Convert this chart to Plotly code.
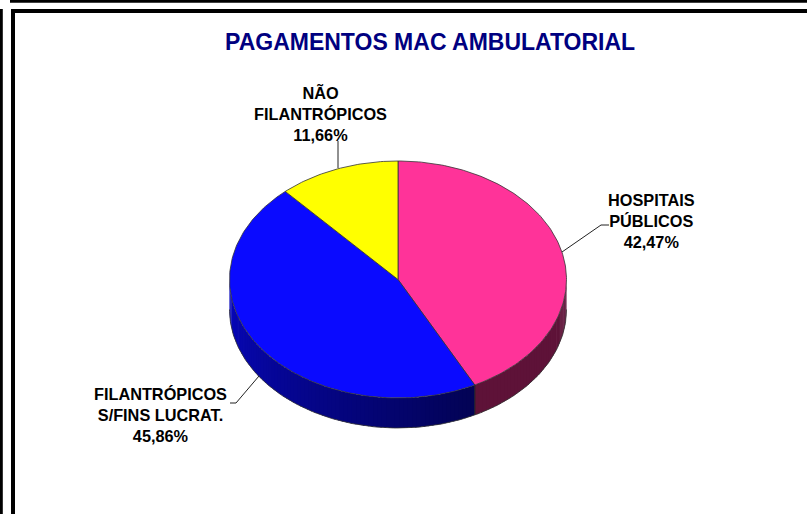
import numpy as np
import plotly.graph_objects as go

# ---------------- data ----------------
title_text = "PAGAMENTOS MAC AMBULATORIAL"
categories = ["HOSPITAIS PÚBLICOS", "FILANTRÓPICOS S/FINS LUCRAT.", "NÃO FILANTRÓPICOS"]
label_lines = [["HOSPITAIS", "PÚBLICOS"], ["FILANTRÓPICOS", "S/FINS LUCRAT."], ["NÃO", "FILANTRÓPICOS"]]
shares = [42.47, 45.86, 11.66]
colors = ["#FF3399", "#0A0AFF", "#FFFF00"]

# ---------------- geometry / style ----------------
W, H = 807, 514
CX, CY = 398.0, 279.5
RX, RY = 168.5, 118.5
DEPTH = 30.0
FONT = "Liberation Sans, Arial, sans-serif"


def pt(theta_deg, dy=0.0):
    t = np.radians(theta_deg)
    return CX + RX * np.sin(t), CY - RY * np.cos(t) + dy


def arc(a, b, dy=0.0, n=None):
    if n is None:
        n = max(int(abs(b - a) / 1.0) + 2, 3)
    th = np.linspace(a, b, n)
    xs, ys = pt(th, dy)
    return list(xs), list(ys)


def hex_rgb(h):
    h = h.lstrip("#")
    return tuple(int(h[i:i + 2], 16) for i in (0, 2, 4))


def shade(col, f):
    r, g, b = hex_rgb(col)
    return "rgb(%d,%d,%d)" % (int(r * f), int(g * f), int(b * f))


def side_factor(theta):
    if theta >= 153:
        return 0.33 + 0.42 * min(max((theta - 153) / 117.0, 0), 1)
    return 0.37


total = sum(shares)
fracs = [s / total for s in shares]
starts = np.concatenate([[0], np.cumsum(fracs)[:-1]]) * 360
ends = np.cumsum(fracs) * 360

fig = go.Figure()

# sides (front half only: 90..270 deg)
for col, a, b in zip(colors, starts, ends):
    lo, hi = max(a, 90), min(b, 270)
    if lo >= hi:
        continue
    nseg = max(int(np.ceil((hi - lo) / 1.5)), 1)
    edges = np.linspace(lo, hi, nseg + 1)
    for s0, s1 in zip(edges[:-1], edges[1:]):
        s1e = min(s1 + 0.6, hi)
        tx, ty = arc(s0, s1e, 0, 3)
        bx, by = arc(s1e, s0, DEPTH, 3)
        c = shade(col, side_factor((s0 + s1) / 2))
        fig.add_trace(go.Scatter(x=tx + bx + [tx[0]], y=ty + by + [ty[0]], fill="toself",
                                 fillcolor=c, mode="none",
                                 hoverinfo="skip", showlegend=False))
    for e in (a, b):
        if 90 < e < 270:
            x0, y0 = pt(e)
            x1, y1 = pt(e, DEPTH)
            fig.add_trace(go.Scatter(x=[x0, x1], y=[y0, y1], mode="lines",
                                     line=dict(color="#222222", width=0.8),
                                     hoverinfo="skip", showlegend=False))

# bottom outline
bx, by = arc(90, 270, DEPTH)
fig.add_trace(go.Scatter(x=bx, y=by, mode="lines", line=dict(color="#333333", width=0.8),
                         hoverinfo="skip", showlegend=False))

# top faces
for name, col, a, b in zip(categories, colors, starts, ends):
    ax, ay = arc(a, b)
    fig.add_trace(go.Scatter(x=[CX] + ax + [CX], y=[CY] + ay + [CY], fill="toself",
                             fillcolor=col, mode="lines", line=dict(color="#333333", width=0.8),
                             name=name, hoverinfo="name", showlegend=False))

# labels
label_pos = [(651, 221), (160, 415), (320, 113)]
leader_paths = ["M 609 225 L 601 225 L 562 252",
                "M 230 403 L 236 403 L 259 376",
                "M 338 141 L 338 168"]
annotations = []
for lines, v, (lx, ly) in zip(label_lines, shares, label_pos):
    txt = "<br>".join(lines + [("%.2f%%" % v).replace(".", ",")])
    annotations.append(dict(x=lx, y=ly, xref="x", yref="y", text=txt, showarrow=False,
                            xanchor="center", yanchor="middle", align="center",
                            font=dict(family=FONT, size=16.3, color="black", weight="bold")))
annotations.append(dict(x=430, y=41.5, xref="x", yref="y", text=title_text, showarrow=False,
                        xanchor="center", yanchor="middle",
                        font=dict(family=FONT, size=23, color="#000080", weight="bold")))

shapes = []
for p in leader_paths:
    shapes.append(dict(type="path", path=p, xref="x", yref="y",
                       line=dict(color="#222222", width=1)))
# frame lines
for x0, y0, x1, y1 in [(10, 0, W, 2.8), (0, 9, 2.8, H), (11, 9, W, 13), (11, 9, 15, H)]:
    shapes.append(dict(type="rect", x0=x0, y0=y0, x1=x1, y1=y1, xref="x", yref="y",
                       fillcolor="black", line=dict(width=0), layer="above"))

fig.update_layout(
    width=W, height=H,
    margin=dict(l=0, r=0, t=0, b=0, pad=0),
    paper_bgcolor="white", plot_bgcolor="white",
    xaxis=dict(range=[0, W], visible=False, fixedrange=True),
    yaxis=dict(range=[H, 0], visible=False, fixedrange=True),
    annotations=annotations, shapes=shapes,
    showlegend=False,
)

fig.write_html("out.html", config={"displayModeBar": False},
               post_script="document.body.style.margin='0';document.body.style.padding='0';")
